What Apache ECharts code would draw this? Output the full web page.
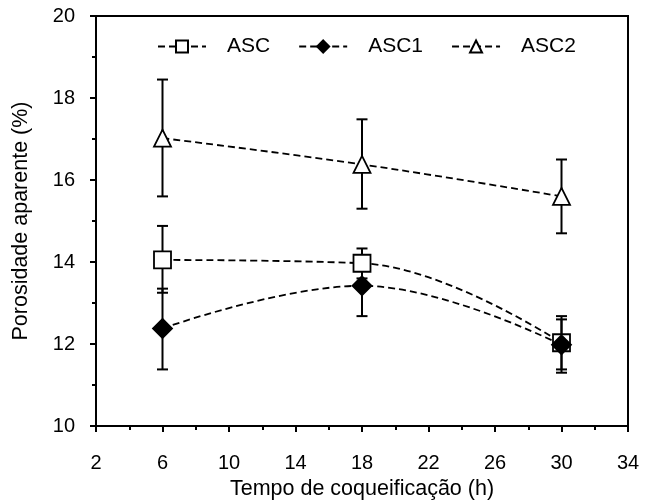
<!DOCTYPE html>
<html>
<head>
<meta charset="utf-8">
<script src="https://cdn.jsdelivr.net/npm/echarts@6/dist/echarts.min.js"></script>
<style>
  html, body { margin: 0; padding: 0; background: #fff; }
  #chart { width: 645px; height: 502px; }
</style>
</head>
<body>
<div id="chart"></div>
<script>
// coking time (h)
const tempos = [6, 18, 30];

// apparent porosity (%) and error bar limits
const asc = [14.05, 13.97, 12.03];
const ascLow = [13.25, 13.6, 11.38];
const ascHigh = [14.88, 14.33, 12.68];

const asc1 = [12.38, 13.42, 11.98];
const asc1Low = [11.38, 12.68, 11.3];
const asc1High = [13.35, 14.15, 12.6];

const asc2 = [17.02, 16.38, 15.6];
const asc2Low = [15.6, 15.3, 14.7];
const asc2High = [18.45, 17.48, 16.5];

const fontFam = '"Liberation Sans", Arial, sans-serif';

function pts(ys) {
    return tempos.map(function (t, i) { return [t, ys[i]]; });
}

function bars(lo, hi) {
    return tempos.map(function (t, i) { return [t, lo[i], hi[i]]; });
}

function renderErr(params, api) {
    const x = api.value(0);
    const lo = api.coord([x, api.value(1)]);
    const hi = api.coord([x, api.value(2)]);
    const cap = 5.5;
    const st = { stroke: '#000', lineWidth: 2 };
    return {
        type: 'group',
        children: [
            { type: 'line', shape: { x1: lo[0], y1: lo[1], x2: hi[0], y2: hi[1] }, style: st },
            { type: 'line', shape: { x1: lo[0] - cap, y1: lo[1], x2: lo[0] + cap, y2: lo[1] }, style: st },
            { type: 'line', shape: { x1: hi[0] - cap, y1: hi[1], x2: hi[0] + cap, y2: hi[1] }, style: st }
        ]
    };
}

function errSeries(lo, hi) {
    return {
        type: 'custom',
        renderItem: renderErr,
        data: bars(lo, hi),
        z: 1,
        silent: true
    };
}

function lineSeries(name, ys, symbol, size, fill) {
    return {
        name: name,
        type: 'line',
        data: pts(ys),
        smooth: 0.4,
        symbol: symbol,
        symbolSize: size,
        showAllSymbol: true,
        z: 3,
        lineStyle: { color: '#000', width: 1.8, type: [7, 4] },
        itemStyle: { color: fill, borderColor: '#000', borderWidth: 1.8 }
    };
}

const chart = echarts.init(document.getElementById('chart'));

const option = {
    animation: false,
    backgroundColor: '#fff',
    textStyle: { fontFamily: fontFam },
    grid: {
        left: 96, right: 17, top: 16, bottom: 76,
        outerBoundsMode: 'none',
        show: true, borderColor: '#000', borderWidth: 2
    },
    legend: {
        left: 152,
        top: 31,
        itemWidth: 48,
        itemHeight: 15,
        itemGap: 28,
        textStyle: { fontFamily: fontFam, fontSize: 21, color: '#000', padding: [0, 0, 0, 16] },
        data: ['ASC', 'ASC1', 'ASC2']
    },
    xAxis: {
        type: 'value',
        min: 2, max: 34, interval: 4,
        name: 'Tempo de coqueificação (h)',
        nameLocation: 'middle',
        nameGap: 52,
        nameTextStyle: { fontFamily: fontFam, fontSize: 21.5, color: '#000' },
        axisLine: { lineStyle: { color: '#000', width: 2 } },
        axisTick: { length: 6, lineStyle: { color: '#000', width: 2 } },
        minorTick: { show: true, splitNumber: 2, length: 4, lineStyle: { color: '#000', width: 2 } },
        splitLine: { show: false },
        axisLabel: { fontFamily: fontFam, fontSize: 20, color: '#000', margin: 27 }
    },
    yAxis: {
        type: 'value',
        min: 10, max: 20, interval: 2,
        name: 'Porosidade aparente (%)',
        nameLocation: 'middle',
        nameGap: 64,
        nameTextStyle: { fontFamily: fontFam, fontSize: 21.5, color: '#000' },
        axisLine: { show: true, lineStyle: { color: '#000', width: 2 } },
        axisTick: { show: true, length: 6, lineStyle: { color: '#000', width: 2 } },
        minorTick: { show: true, splitNumber: 2, length: 4, lineStyle: { color: '#000', width: 2 } },
        splitLine: { show: false },
        axisLabel: { fontFamily: fontFam, fontSize: 20, color: '#000', margin: 21 }
    },
    series: [
        errSeries(ascLow, ascHigh),
        errSeries(asc1Low, asc1High),
        errSeries(asc2Low, asc2High),
        lineSeries('ASC', asc, 'rect', 17, '#fff'),
        lineSeries('ASC1', asc1, 'diamond', 19, '#000'),
        lineSeries('ASC2', asc2, 'triangle', 17, '#fff')
    ]
};

chart.setOption(option);
</script>
</body>
</html>
